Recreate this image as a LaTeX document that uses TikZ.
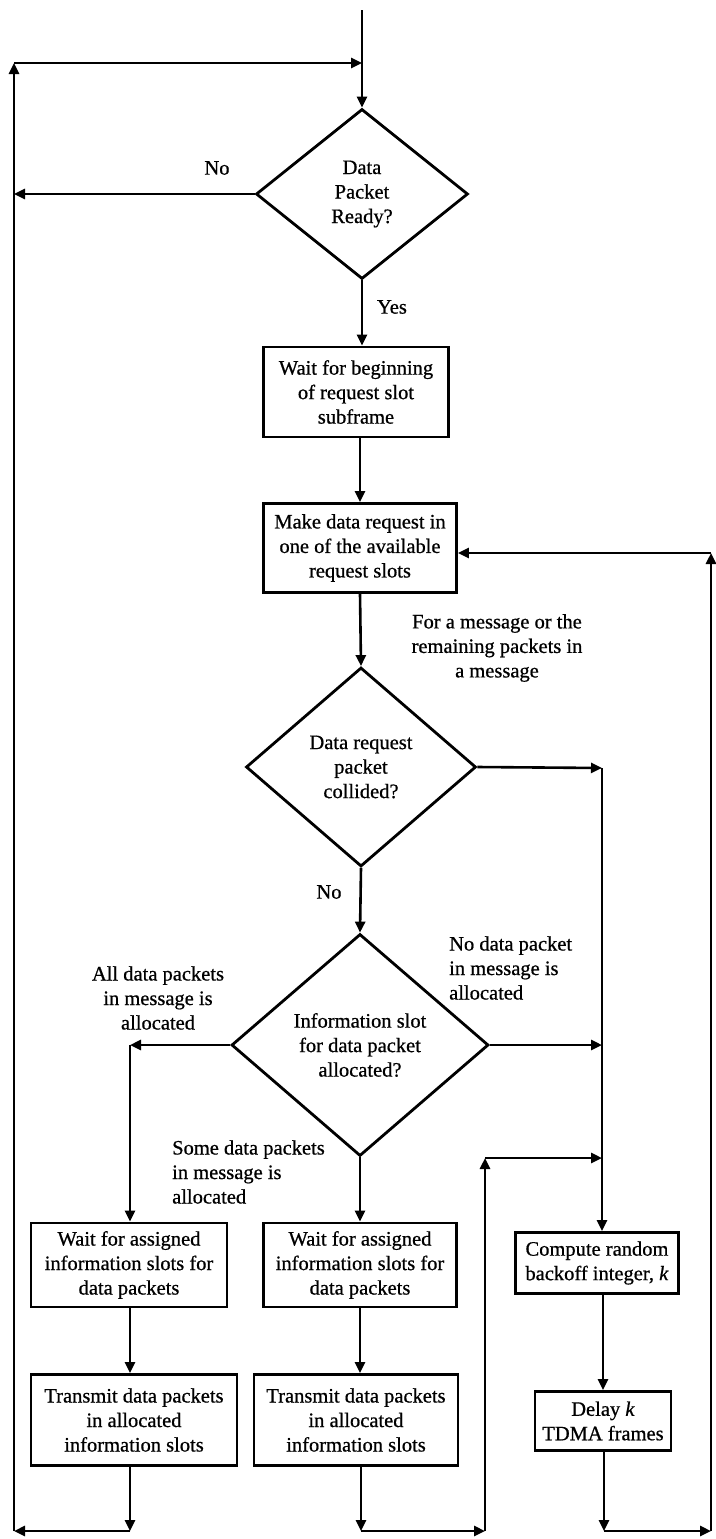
\documentclass[tikz,border=0pt]{standalone}
\usepackage{fontspec}
\setmainfont[FakeBold=0.7]{Liberation Serif}
\usetikzlibrary{shapes.geometric,arrows.meta}
\begin{document}
\begin{tikzpicture}[x=1pt,y=-1pt,
  every node/.style={font=\fontsize{20.5}{24.5}\selectfont,align=center,inner sep=1pt},
  flowbox/.style={draw,line width=2.8pt,rectangle,inner sep=0pt},
  decide/.style={draw,line width=2.8pt,diamond,inner sep=0pt},
  flow/.style={line width=2.6pt,-{Triangle[length=11pt,width=10pt]}}]
  \useasboundingbox (0,0) rectangle (715,1539);
  \node[decide,minimum width=212pt,minimum height=170pt] (ready) at (362,194) {Data\\Packet\\Ready?};
  \node[flowbox,minimum width=185pt,minimum height=90pt] (waitsub) at (356,392) {Wait for beginning\\of request slot\\subframe};
  \node[flowbox,minimum width=193pt,minimum height=89pt] (request) at (360,548) {Make data request in\\one of the available\\request slots};
  \node[decide,minimum width=230pt,minimum height=199pt] (collide) at (361,767) {Data request\\packet\\collided?};
  \node[decide,minimum width=257pt,minimum height=222pt] (alloc) at (360,1045) {Information slot\\for data packet\\allocated?};
  \node[flowbox,minimum width=196pt,minimum height=84pt] (waitall) at (129,1265) {Wait for assigned\\information slots for\\data packets};
  \node[flowbox,minimum width=193pt,minimum height=84pt] (waitsome) at (360,1265) {Wait for assigned\\information slots for\\data packets};
  \node[flowbox,minimum width=163pt,minimum height=61pt] (backoff) at (597,1263) {Compute random\\backoff integer, \textit{k}};
  \node[flowbox,minimum width=206pt,minimum height=91pt] (sendall) at (134,1420) {Transmit data packets\\in allocated\\information slots};
  \node[flowbox,minimum width=204pt,minimum height=91pt] (sendsome) at (356,1420) {Transmit data packets\\in allocated\\information slots};
  \node[flowbox,minimum width=136pt,minimum height=59pt] (delay) at (603,1421) {Delay \textit{k}\\TDMA frames};
  \node (no1) at (217,168) {No};
  \node (yes1) at (392,307) {Yes};
  \node (formsg) at (497,648) {For a message or the\\remaining packets in\\a message};
  \node (no2) at (329,892) {No};
  \node (allpk) at (158,998) {All data packets\\in message is\\allocated};
  \node[anchor=west,align=left] (nopk) at (448,968) {No data packet\\in message is\\allocated};
  \node[anchor=west,align=left] (somepk) at (171,1172) {Some data packets\\in message is\\allocated};
  \coordinate (start) at (362,10);
  \coordinate (topright) at (362,63);
  \coordinate (topleft) at (14,63);
  \coordinate (botleft) at (14,1531);
  \coordinate (allturn) at (130,1045);
  \coordinate (colR) at (602,768);
  \coordinate (retryR) at (602,1158);
  \coordinate (retryL) at (485,1158);
  \coordinate (allend) at (130,1531);
  \coordinate (someend) at (361,1531);
  \coordinate (somecorner) at (485,1531);
  \coordinate (delayend) at (604,1531);
  \coordinate (outerbot) at (711,1531);
  \coordinate (outertop) at (711,553);
  \draw[flow] (start) -- (ready.north);
  \draw[flow] (botleft) -- (topleft);
  \draw[flow] (topleft) -- (topright);
  \draw[flow] (ready.west) -- (ready.west -| topleft);
  \draw[flow] (ready.south) -- (ready.south |- waitsub.north);
  \draw[flow] (waitsub.south -| request.north) -- (request.north);
  \draw[flow] (request.south) -- (collide.north);
  \draw[flow] (collide.east) -- (colR);
  \draw[flow] (colR) -- (colR |- backoff.north);
  \draw[flow] (collide.south) -- (alloc.north);
  \draw[flow] (alloc.west) -- (allturn);
  \draw[flow] (allturn) -- (allturn |- waitall.north);
  \draw[flow] (alloc.east) -- (alloc.east -| colR);
  \draw[flow] (alloc.south) -- (waitsome.north);
  \draw[flow] (waitall.south -| allturn) -- (allturn |- sendall.north);
  \draw[flow] (waitsome.south) -- (waitsome.south |- sendsome.north);
  \draw[flow] (backoff.south -| delay.north) -- (delay.north);
  \draw[flow] (allend |- sendall.south) -- (allend);
  \draw[flow] (allend) -- (botleft);
  \draw[flow] (someend |- sendsome.south) -- (someend);
  \draw[flow] (someend) -- (somecorner);
  \draw[flow] (somecorner) -- (retryL);
  \draw[flow] (retryL) -- (retryR);
  \draw[flow] (delayend |- delay.south) -- (delayend);
  \draw[flow] (delayend) -- (outerbot);
  \draw[flow] (outerbot) -- (outertop);
  \draw[flow] (outertop) -- (outertop -| request.east);
\end{tikzpicture}
\end{document}
